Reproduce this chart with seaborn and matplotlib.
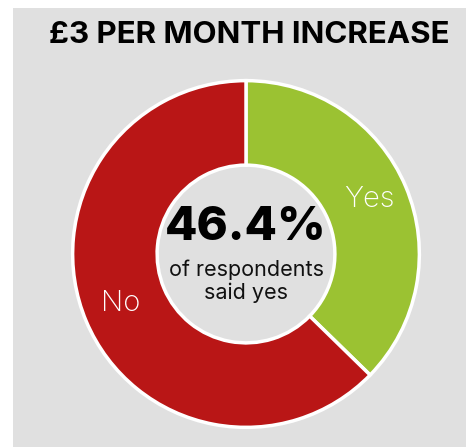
import matplotlib
matplotlib.use("Agg")
import matplotlib.pyplot as plt
import seaborn as sns
from matplotlib.patches import Rectangle

# Data
answers = ["Yes", "No"]
shares = [37.3, 62.7]
colors = ["#9BC232", "#B91616"]
headline = "46.4%"
subline = "of respondents\nsaid yes"
title = "£3 PER MONTH INCREASE"

sns.set_theme(style="white")
plt.rcParams['font.family'] = ['Inter', 'DejaVu Sans']

W, H = 466, 447
fig = plt.figure(figsize=(W / 100, H / 100), dpi=100)
fig.patch.set_facecolor("white")

# grey card behind everything
fig.patches.append(Rectangle((13 / W, 0), 1 - 13 / W, 1 - 8 / H,
                             transform=fig.transFigure, facecolor="#E0E0E0",
                             edgecolor="none", zorder=-10))

# donut axes: box spans pixels x 70..422, y 78..430
ax = fig.add_axes([70 / W, (H - 430) / H, 352 / W, 352 / H])
ax.set_facecolor("none")
ax.patch.set_alpha(0)
wedges, _ = ax.pie(shares, colors=colors, startangle=90, counterclock=False,
                   radius=0.985,
                   wedgeprops=dict(width=0.48, edgecolor="white", linewidth=2.5))
ax.set_xlim(-1, 1)
ax.set_ylim(-1, 1)
ax.axis("off")

# slice labels
ax.text(0.70, 0.31, answers[0], ha="center", va="center", color="white",
        fontsize=21, fontweight="light")
ax.text(-0.71, -0.28, answers[1], ha="center", va="center", color="white",
        fontsize=21, fontweight="light")

# center text
ax.text(0.0, 0.15, headline, ha="center", va="center", color="black",
        fontsize=34, fontweight="heavy")
ax.text(0.0, -0.155, subline, ha="center", va="center", color="#111111",
        fontsize=15.5, linespacing=1.1)

fig.text(249 / W, 1 - 35 / H, title, ha="center", va="center",
         fontsize=22.5, fontweight="bold", color="black")

fig.savefig("out.png", dpi=100)
